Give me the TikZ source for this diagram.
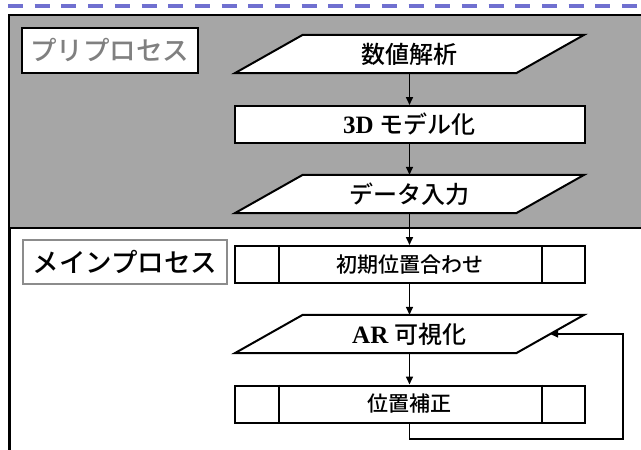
\documentclass[tikz,border=0pt]{standalone}
\usepackage{fontspec}
\setmainfont{Liberation Serif}
\newfontfamily\jp{Noto Sans CJK JP Medium}
\usetikzlibrary{arrows.meta,calc}
\definecolor{graybg}{RGB}{166,166,166}
\definecolor{dashblue}{RGB}{112,112,208}
\definecolor{labelgray}{RGB}{128,128,128}
\definecolor{labelborder}{RGB}{140,140,140}
\pgfdeclarelayer{bg}
\pgfsetlayers{bg,main}
\begin{document}
\begin{tikzpicture}[x=1pt,y=-1pt,
  paranode/.style={minimum width=349pt,minimum height=38pt,inner sep=0pt,font=\jp\fontsize{24}{24}\selectfont},
  parashape/.style={draw=black,line width=2pt,fill=white,line join=miter},
  flowbox/.style={draw=black,line width=2pt,fill=white,minimum width=350pt,minimum height=37pt,inner sep=0pt},
  subbox/.style={flowbox,font=\jp\fontsize{21}{21}\selectfont},
  preplabel/.style={draw=black,line width=2pt,fill=white,minimum width=176pt,minimum height=45pt,inner sep=0pt,text=labelgray,font=\jp\fontsize{26.5}{26.5}\selectfont},
  mainlabel/.style={draw=labelborder,line width=2pt,fill=white,minimum width=204pt,minimum height=44pt,inner sep=0pt,text=black,font=\jp\fontsize{26.5}{26.5}\selectfont},
  flowarrow/.style={line width=1.6pt,-{Triangle[length=8pt,width=7pt]}},
  sepline/.style={line width=2pt}
]
\useasboundingbox (0,0) rectangle (641,450);
\begin{pgfonlayer}{bg}
\fill[white] (0,0) rectangle (641,450);
\draw[dashblue,line width=4pt,dash pattern=on 15pt off 11.7pt] (8,6) -- (660,6);
\draw[fill=graybg,line width=2.5pt] (9,15) rectangle (670,228);
\draw[line width=3pt] (9,228) -- (9,470);
\end{pgfonlayer}

% labels
\node[preplabel] (pre) at (110,50.5) {プリプロセス};
\node[mainlabel] (mainp) at (125,262) {メインプロセス};

% flow
\node[paranode] (num) at (409.5,54) {数値解析};
\node[flowbox,font=\fontsize{25}{25}\selectfont] (mdl) at (409.5,124.5) {\textbf{3D} {\jp\fontsize{24}{24}\selectfont モデル化}};
\node[paranode] (dat) at (409.5,194) {データ入力};
\node[subbox] (init) at (409.5,264.5) {初期位置合わせ};
\node[paranode,font=\fontsize{25}{25}\selectfont] (ar) at (409.5,334) {\textbf{AR} {\jp\fontsize{24}{24}\selectfont 可視化}};
\node[subbox] (corr) at (409.5,404) {位置補正};

\begin{pgfonlayer}{bg}
\foreach \n in {num,dat,ar}{
  \draw[parashape] ($(\n.north west)+(68,0)$) -- (\n.north east) -- ($(\n.south east)+(-68,0)$) -- (\n.south west) -- cycle;
}
\end{pgfonlayer}

\foreach \n in {init,corr}{
  \draw[sepline] ($(\n.north west)+(45,0)$) -- ($(\n.south west)+(45,0)$);
  \draw[sepline] ($(\n.north east)+(-44,0)$) -- ($(\n.south east)+(-44,0)$);
}

\draw[flowarrow] (num.south) -- (mdl.north);
\draw[flowarrow] (mdl.south) -- (dat.north);
\draw[flowarrow] (dat.south) -- (init.north);
\draw[flowarrow] (init.south) -- (ar.north);
\draw[flowarrow] (ar.south) -- (corr.north);

\coordinate (fbR) at (623,439);
\coordinate (arR) at ($(ar.east)+(-34,0)$);
\draw[flowarrow] (corr.south) |- (fbR) |- (arR);
\end{tikzpicture}
\end{document}
